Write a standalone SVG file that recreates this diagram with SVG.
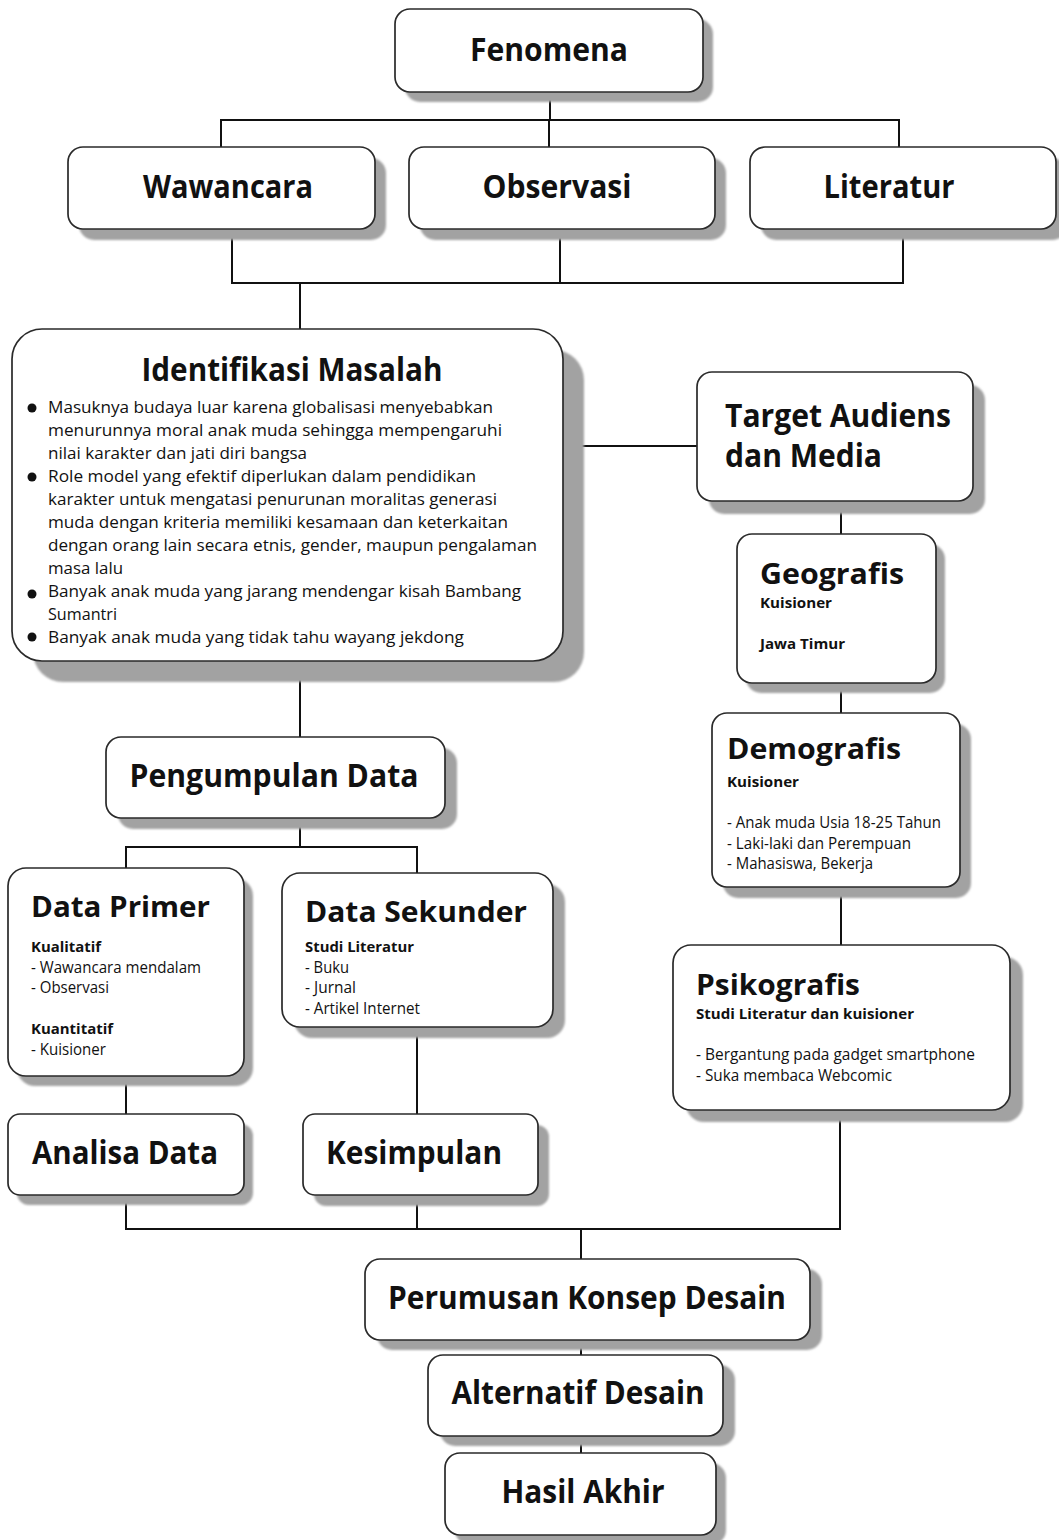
<svg xmlns="http://www.w3.org/2000/svg" width="1059" height="1540" viewBox="0 0 1059 1540">
<defs>
<filter id="blur" x="-5%" y="-5%" width="110%" height="110%"><feGaussianBlur stdDeviation="0.9"/></filter>
</defs>
<style>
.sh{fill:#a2a2a2;filter:url(#blur)}
.bx{fill:#fff;stroke:#2a2a2a;stroke-width:1.7}
.ln{stroke:#111;stroke-width:2;fill:none}
text{font-family:"Open Sans","Liberation Sans",sans-serif;fill:#111}
.t{font-weight:700;font-size:32px}
.h{font-weight:700;font-size:29px}
.b{font-weight:700;font-size:15px}
.r{font-size:15.5px}
.p{font-size:17px}
.c{text-anchor:middle}
</style>
<rect width="1059" height="1540" fill="#fff"/>
<g id="connectors">
<path class="ln" d="M550 92V120M221 147V120H899V147M549 120V147"/>
<path class="ln" d="M232 229V283H903V229M560 229V283M300 283V329"/>
<path class="ln" d="M563 446H697M841 501V534M841 683V713M841 887V945"/>
<path class="ln" d="M300 661V737M300 818V847M126 868V847H417V873"/>
<path class="ln" d="M126 1076V1114M417 1027V1114"/>
<path class="ln" d="M126 1195V1229H840V1110M417 1195V1229M581 1229V1259M581 1340V1355M581 1436V1453"/>
</g>
<g id="fenomena">
<rect class="sh" x="405" y="19" width="308" height="83" rx="15"/>
<rect class="bx" x="395" y="9" width="308" height="83" rx="15"/>
<text class="t c" x="549" y="61" textLength="158" lengthAdjust="spacingAndGlyphs">Fenomena</text>
</g>
<g id="wawancara">
<rect class="sh" x="79" y="158" width="307" height="82" rx="15"/>
<rect class="bx" x="68" y="147" width="307" height="82" rx="15"/>
<text class="t c" x="228" y="198" textLength="170" lengthAdjust="spacingAndGlyphs">Wawancara</text>
</g>
<g id="observasi">
<rect class="sh" x="420" y="158" width="306" height="82" rx="15"/>
<rect class="bx" x="409" y="147" width="306" height="82" rx="15"/>
<text class="t c" x="557" y="198" textLength="149" lengthAdjust="spacingAndGlyphs">Observasi</text>
</g>
<g id="literatur">
<rect class="sh" x="761" y="158" width="306" height="82" rx="15"/>
<rect class="bx" x="750" y="147" width="306" height="82" rx="15"/>
<text class="t c" x="889" y="198" textLength="131" lengthAdjust="spacingAndGlyphs">Literatur</text>
</g>
<g id="identifikasi">
<rect class="sh" x="33" y="350" width="551" height="332" rx="30"/>
<rect class="bx" x="12" y="329" width="551" height="332" rx="30"/>
<text class="t c" x="292" y="381" textLength="301" lengthAdjust="spacingAndGlyphs">Identifikasi Masalah</text>
<circle cx="32" cy="408" r="4.5" fill="#111"/>
<circle cx="32" cy="477" r="4.5" fill="#111"/>
<circle cx="32" cy="594" r="4.5" fill="#111"/>
<circle cx="32" cy="637" r="4.5" fill="#111"/>
<text class="p" x="48" y="413" textLength="445" lengthAdjust="spacingAndGlyphs">Masuknya budaya luar karena globalisasi menyebabkan</text>
<text class="p" x="48" y="436" textLength="454" lengthAdjust="spacingAndGlyphs">menurunnya moral anak muda sehingga mempengaruhi</text>
<text class="p" x="48" y="459" textLength="259" lengthAdjust="spacingAndGlyphs">nilai karakter dan jati diri bangsa</text>
<text class="p" x="48" y="482" textLength="428" lengthAdjust="spacingAndGlyphs">Role model yang efektif diperlukan dalam pendidikan</text>
<text class="p" x="48" y="505" textLength="449" lengthAdjust="spacingAndGlyphs">karakter untuk mengatasi penurunan moralitas generasi</text>
<text class="p" x="48" y="528" textLength="460" lengthAdjust="spacingAndGlyphs">muda dengan kriteria memiliki kesamaan dan keterkaitan</text>
<text class="p" x="48" y="551" textLength="489" lengthAdjust="spacingAndGlyphs">dengan orang lain secara etnis, gender, maupun pengalaman</text>
<text class="p" x="48" y="574" textLength="75" lengthAdjust="spacingAndGlyphs">masa lalu</text>
<text class="p" x="48" y="597" textLength="473" lengthAdjust="spacingAndGlyphs">Banyak anak muda yang jarang mendengar kisah Bambang</text>
<text class="p" x="48" y="620" textLength="69" lengthAdjust="spacingAndGlyphs">Sumantri</text>
<text class="p" x="48" y="643" textLength="416" lengthAdjust="spacingAndGlyphs">Banyak anak muda yang tidak tahu wayang jekdong</text>
</g>
<g id="target">
<rect class="sh" x="709" y="385" width="276" height="129" rx="15"/>
<rect class="bx" x="697" y="372" width="276" height="129" rx="15"/>
<text class="t" x="725" y="427" textLength="226" lengthAdjust="spacingAndGlyphs">Target Audiens</text>
<text class="t" x="725" y="467" textLength="157" lengthAdjust="spacingAndGlyphs">dan Media</text>
</g>
<g id="geografis">
<rect class="sh" x="746" y="544" width="199" height="149" rx="15"/>
<rect class="bx" x="737" y="534" width="199" height="149" rx="15"/>
<text class="h" x="760" y="584" textLength="144" lengthAdjust="spacingAndGlyphs">Geografis</text>
<text class="b" x="760" y="608" textLength="72" lengthAdjust="spacingAndGlyphs">Kuisioner</text>
<text class="b" x="760" y="649" textLength="85" lengthAdjust="spacingAndGlyphs">Jawa Timur</text>
</g>
<g id="demografis">
<rect class="sh" x="723" y="724" width="248" height="174" rx="15"/>
<rect class="bx" x="712" y="713" width="248" height="174" rx="15"/>
<text class="h" x="727" y="759" textLength="174" lengthAdjust="spacingAndGlyphs">Demografis</text>
<text class="b" x="727" y="787" textLength="72" lengthAdjust="spacingAndGlyphs">Kuisioner</text>
<text class="r" x="727" y="828" textLength="214" lengthAdjust="spacingAndGlyphs">- Anak muda Usia 18-25 Tahun</text>
<text class="r" x="727" y="849" textLength="184" lengthAdjust="spacingAndGlyphs">- Laki-laki dan Perempuan</text>
<text class="r" x="727" y="869" textLength="146" lengthAdjust="spacingAndGlyphs">- Mahasiswa, Bekerja</text>
</g>
<g id="psikografis">
<rect class="sh" x="686" y="957" width="337" height="165" rx="18"/>
<rect class="bx" x="673" y="945" width="337" height="165" rx="18"/>
<text class="h" x="696" y="995" textLength="164" lengthAdjust="spacingAndGlyphs">Psikografis</text>
<text class="b" x="696" y="1019" textLength="218" lengthAdjust="spacingAndGlyphs">Studi Literatur dan kuisioner</text>
<text class="r" x="696" y="1060" textLength="279" lengthAdjust="spacingAndGlyphs">- Bergantung pada gadget smartphone</text>
<text class="r" x="696" y="1081" textLength="196" lengthAdjust="spacingAndGlyphs">- Suka membaca Webcomic</text>
</g>
<g id="pengumpulan">
<rect class="sh" x="118" y="748" width="339" height="81" rx="15"/>
<rect class="bx" x="106" y="737" width="339" height="81" rx="15"/>
<text class="t c" x="274" y="787" textLength="289" lengthAdjust="spacingAndGlyphs">Pengumpulan Data</text>
</g>
<g id="dataprimer">
<rect class="sh" x="17" y="878" width="236" height="208" rx="18"/>
<rect class="bx" x="8" y="868" width="236" height="208" rx="18"/>
<text class="h" x="31" y="917" textLength="179" lengthAdjust="spacingAndGlyphs">Data Primer</text>
<text class="b" x="31" y="952" textLength="70" lengthAdjust="spacingAndGlyphs">Kualitatif</text>
<text class="r" x="31" y="973" textLength="170" lengthAdjust="spacingAndGlyphs">- Wawancara mendalam</text>
<text class="r" x="31" y="993" textLength="78" lengthAdjust="spacingAndGlyphs">- Observasi</text>
<text class="b" x="31" y="1034" textLength="82" lengthAdjust="spacingAndGlyphs">Kuantitatif</text>
<text class="r" x="31" y="1055" textLength="75" lengthAdjust="spacingAndGlyphs">- Kuisioner</text>
</g>
<g id="datasekunder">
<rect class="sh" x="294" y="884" width="271" height="154" rx="18"/>
<rect class="bx" x="282" y="873" width="271" height="154" rx="18"/>
<text class="h" x="305" y="922" textLength="222" lengthAdjust="spacingAndGlyphs">Data Sekunder</text>
<text class="b" x="305" y="952" textLength="109" lengthAdjust="spacingAndGlyphs">Studi Literatur</text>
<text class="r" x="305" y="973" textLength="44" lengthAdjust="spacingAndGlyphs">- Buku</text>
<text class="r" x="305" y="993" textLength="51" lengthAdjust="spacingAndGlyphs">- Jurnal</text>
<text class="r" x="305" y="1014" textLength="115" lengthAdjust="spacingAndGlyphs">- Artikel Internet</text>
</g>
<g id="analisa">
<rect class="sh" x="17" y="1124" width="236" height="81" rx="12"/>
<rect class="bx" x="8" y="1114" width="236" height="81" rx="12"/>
<text class="t c" x="125" y="1164" textLength="186" lengthAdjust="spacingAndGlyphs">Analisa Data</text>
</g>
<g id="kesimpulan">
<rect class="sh" x="314" y="1125" width="235" height="81" rx="12"/>
<rect class="bx" x="303" y="1114" width="235" height="81" rx="12"/>
<text class="t c" x="414" y="1164" textLength="176" lengthAdjust="spacingAndGlyphs">Kesimpulan</text>
</g>
<g id="perumusan">
<rect class="sh" x="377" y="1269" width="445" height="81" rx="15"/>
<rect class="bx" x="365" y="1259" width="445" height="81" rx="15"/>
<text class="t c" x="587" y="1309" textLength="398" lengthAdjust="spacingAndGlyphs">Perumusan Konsep Desain</text>
</g>
<g id="alternatif">
<rect class="sh" x="440" y="1365" width="295" height="81" rx="15"/>
<rect class="bx" x="428" y="1355" width="295" height="81" rx="15"/>
<text class="t c" x="578" y="1404" textLength="253" lengthAdjust="spacingAndGlyphs">Alternatif Desain</text>
</g>
<g id="hasil">
<rect class="sh" x="455" y="1463" width="271" height="82" rx="15"/>
<rect class="bx" x="445" y="1453" width="271" height="82" rx="15"/>
<text class="t c" x="583" y="1503" textLength="163" lengthAdjust="spacingAndGlyphs">Hasil Akhir</text>
</g>
</svg>
